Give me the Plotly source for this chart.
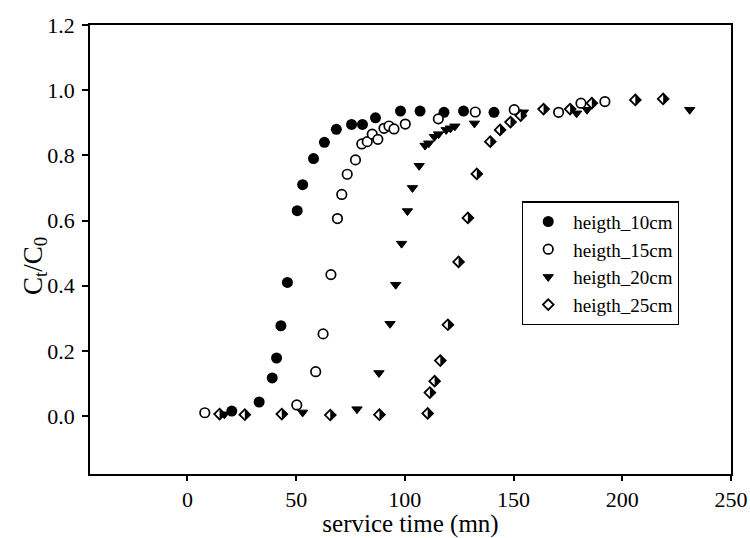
import plotly.graph_objects as go

# ---- data ----
x10 = [20.4, 33, 39, 41, 43, 46, 50.5, 53, 58, 63, 68.5, 75.5, 80.5, 86.5, 98, 107, 118, 127, 141]
y10 = [0.015, 0.043, 0.117, 0.178, 0.277, 0.41, 0.63, 0.71, 0.79, 0.84, 0.88, 0.895, 0.895, 0.915,
       0.936, 0.936, 0.932, 0.936, 0.932]

x15 = [8, 50.3, 59, 62.4, 66, 69, 71, 73.5, 77.3, 80.2, 82.7, 85, 87.6, 90.4, 92.7, 95, 100.2,
       115.4, 132.4, 150.3, 170.7, 181, 192]
y15 = [0.01, 0.034, 0.136, 0.252, 0.434, 0.606, 0.68, 0.742, 0.786, 0.835, 0.842, 0.865, 0.849,
       0.883, 0.89, 0.881, 0.896, 0.912, 0.933, 0.94, 0.932, 0.96, 0.965]

x20 = [17, 53, 78, 88.1, 93.2, 95.8, 98.5, 101.2, 103.5, 106.6, 109.3, 111, 113.6, 115.5, 119,
       121, 123, 132, 154.5, 179, 183.8, 231]
y20 = [0.005, 0.011, 0.021, 0.132, 0.283, 0.403, 0.529, 0.629, 0.70, 0.768, 0.83, 0.837, 0.857,
       0.865, 0.878, 0.883, 0.889, 0.898, 0.932, 0.929, 0.94, 0.94]

x25 = [14.8, 26.4, 43.4, 65.7, 88.3, 110.5, 111.5, 113.7, 116.3, 119.8, 124.7, 129, 133.1, 139.3,
       143.8, 148.6, 153.3, 163.8, 176, 186, 206, 218.8]
y25 = [0.006, 0.004, 0.006, 0.003, 0.004, 0.008, 0.072, 0.107, 0.17, 0.28, 0.473, 0.608, 0.743,
       0.842, 0.878, 0.902, 0.922, 0.942, 0.942, 0.96, 0.97, 0.973]

names = ["heigth_10cm", "heigth_15cm", "heigth_20cm", "heigth_25cm"]
x_ticks = [0, 50, 100, 150, 200, 250]
y_ticks = [0.0, 0.2, 0.4, 0.6, 0.8, 1.0, 1.2]
x_title = "service time (mn)"
y_title = "C<sub>t</sub>/C<sub>0</sub>"

FONT = "Liberation Serif, Times New Roman, serif"

fig = go.Figure()

fig.add_trace(go.Scatter(x=x10, y=y10, mode="markers", name=names[0],
                         marker=dict(symbol="circle", size=11, color="black",
                                     line=dict(width=0))))
fig.add_trace(go.Scatter(x=x15, y=y15, mode="markers", name=names[1],
                         marker=dict(symbol="circle", size=9.5, color="white",
                                     line=dict(width=1.7, color="black"))))
fig.add_trace(go.Scatter(x=x20, y=y20, mode="markers", name=names[2],
                         marker=dict(symbol="triangle-down", size=9, color="black",
                                     line=dict(width=1, color="black"))))
# half-filled diamond: white diamond with black outline + black right half
fig.add_trace(go.Scatter(x=x25, y=y25, mode="markers", name=names[3],
                         marker=dict(symbol="diamond", size=8.2, color="white",
                                     line=dict(width=1.8, color="black"))))
fig.add_trace(go.Scatter(x=x25, y=y25, mode="markers", name=names[3], showlegend=False,
                         hoverinfo="skip",
                         marker=dict(symbol="triangle-down", size=8.2, angle=-90,
                                     standoff=2.05, color="black",
                                     line=dict(width=0))))

fig.update_layout(
    width=750, height=538,
    margin=dict(l=90, r=19, t=25, b=64, autoexpand=False),
    paper_bgcolor="white", plot_bgcolor="white",
    font=dict(family=FONT, size=22, color="black"),
    showlegend=True,
    legend=dict(x=0.674, y=0.607, xanchor="left", yanchor="top",
                bgcolor="white", bordercolor="black", borderwidth=1.2,
                font=dict(family=FONT, size=19, color="black"),
                itemwidth=40, itemsizing="trace", tracegroupgap=0),
    annotations=[dict(text=y_title, textangle=-90, xref="paper", yref="paper",
                      x=-0.086, y=0.463, xanchor="center", yanchor="middle",
                      showarrow=False, font=dict(family=FONT, size=27, color="black"))],
)

fig.update_xaxes(range=[-44.8, 250], tickvals=x_ticks, ticks="outside", ticklen=5,
                 tickwidth=1.5, tickcolor="black", showline=True, linecolor="black",
                 linewidth=1.8, mirror=True, showgrid=False, zeroline=False,
                 automargin=False,
                 tickfont=dict(family=FONT, size=22), ticklabelstandoff=0,
                 title=dict(text=x_title, font=dict(family=FONT, size=25), standoff=7))
fig.update_yaxes(range=[-0.178, 1.2], tickvals=y_ticks, tickformat=".1f", ticks="outside",
                 ticklen=6, tickwidth=1.5, tickcolor="black", showline=True,
                 linecolor="black", linewidth=1.8, mirror=True, showgrid=False,
                 zeroline=False, automargin=False,
                 tickfont=dict(family=FONT, size=22), ticklabelstandoff=3)

fig.write_html("out.html", config={"displayModeBar": False},
               post_script="document.body.style.margin='0';")
